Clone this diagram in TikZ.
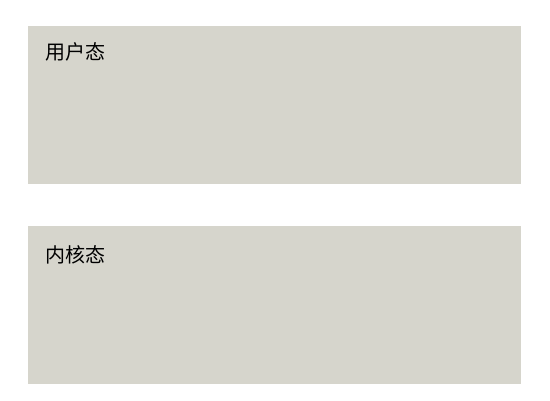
\documentclass[tikz,border=0pt]{standalone}
\usepackage{fontspec}
\newfontfamily\cjk{Noto Sans CJK SC}
\definecolor{panelgrey}{HTML}{D6D5CC}
\begin{document}
\begin{tikzpicture}[x=1pt,y=-1pt,
  panel/.style={fill=panelgrey,draw=none},
  lbl/.style={anchor=north west,inner sep=0pt,font=\cjk\fontsize{20}{20}\selectfont}]
\useasboundingbox (0,0) rectangle (550,400);
\fill[white] (0,0) rectangle (550,400);
\path[panel] (28,26) rectangle (521,184);
\path[panel] (28,226) rectangle (521,384);
\node[lbl] (user) at (45,42) {用户态};
\node[lbl] (kernel) at (45,245) {内核态};
\end{tikzpicture}
\end{document}
